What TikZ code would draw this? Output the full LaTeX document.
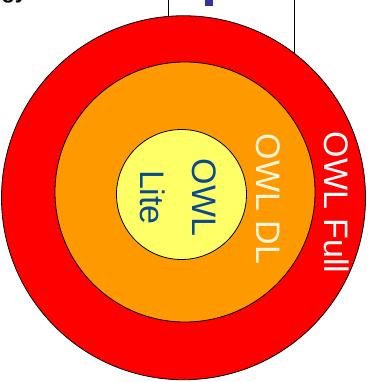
\documentclass[tikz,border=0pt]{standalone}
\usepackage{fontspec}
\setmainfont{Liberation Sans}
\usetikzlibrary{positioning}
\definecolor{owlRed}{HTML}{FF0000}
\definecolor{owlOrange}{HTML}{FF9900}
\definecolor{owlYellow}{HTML}{FFFF66}
\definecolor{owlCream}{HTML}{FFF6DC}
\definecolor{owlBlue}{HTML}{0A4A8F}
\definecolor{slideBlue}{HTML}{333399}
\tikzset{
  ring/.style={circle, draw=black, line width=0.8pt, inner sep=0pt},
  ringFull/.style={ring, fill=owlRed},
  ringDL/.style={ring, fill=owlOrange},
  ringLite/.style={ring, fill=owlYellow},
  owlLabel/.style={rotate=-90, inner sep=0pt, align=center,
                   font=\fontsize{34}{52}\selectfont},
}
\begin{document}
\begin{tikzpicture}[x=1pt, y=-1pt]
    \useasboundingbox (0,0) rectangle (372,382);
    % bits of the slide cut off above
    \node[font=\bfseries\fontsize{22}{26}\selectfont, anchor=base west] (title) at (-2,-1.5) {gy};
    \draw[line width=0.8pt] (168,-20) rectangle (294,80);
    \fill[slideBlue] (205,-10) rectangle (213,6);
    % nested languages
    \node[ringFull, minimum size=364pt] (full) at (183.5,197.75) {};
    \node[ringDL, minimum size=260pt] (dl) at (185,192) {};
    \node[ringLite, minimum size=130pt] (lite) at (181.5,194.5) {};
    \node[owlLabel, text=white] (fullTxt) at (336.5,202.5) {OWL Full};
    \node[owlLabel, text=owlCream] (dlTxt) at (268.5,199) {OWL DL};
    \node[owlLabel, text=owlBlue] (liteTxt) at (178,197.5) {OWL\\Lite};
\end{tikzpicture}
\end{document}
